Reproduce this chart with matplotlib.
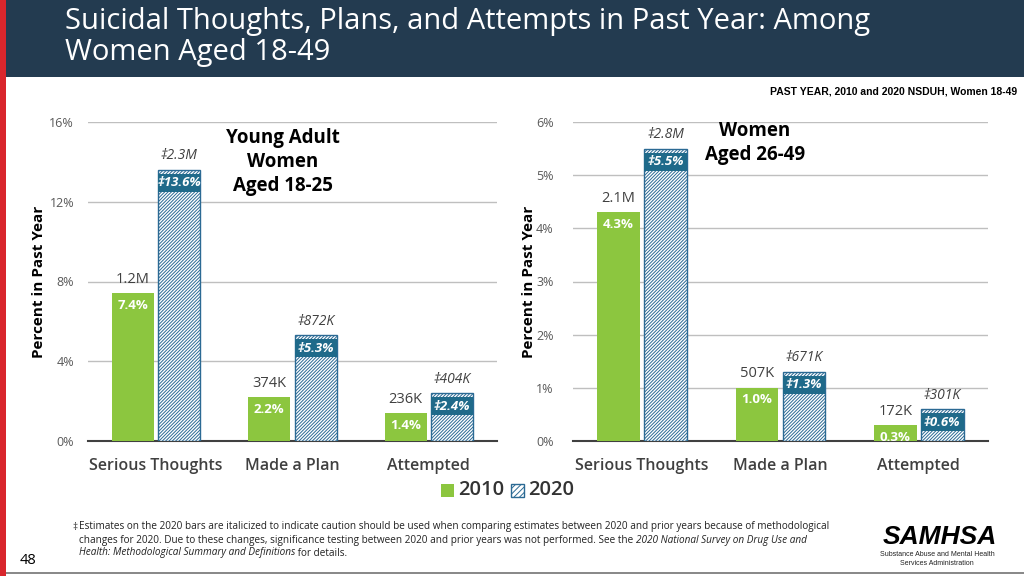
import numpy as np
import matplotlib
matplotlib.use('Agg')
import matplotlib.pyplot as plt
from matplotlib.patches import Rectangle

# Data
categories = ['Serious Thoughts', 'Made a Plan', 'Attempted']
young_2010 = [7.4, 2.2, 1.4]
young_2020 = [13.6, 5.3, 2.4]
young_2010_n = ['1.2M', '374K', '236K']
young_2020_n = ['2.3M', '872K', '404K']
older_2010 = [4.3, 1.0, 0.3]
older_2020 = [5.5, 1.3, 0.6]
older_2010_n = ['2.1M', '507K', '172K']
older_2020_n = ['2.8M', '671K', '301K']
young_ticks = [0, 4, 8, 12, 16]
older_ticks = [0, 1, 2, 3, 4, 5, 6]

GREEN = '#8cc63f'
BLUE = '#1f6a8a'
HATCH_BLUE = '#2b6a94'
NAVY = '#233b50'
DARK = '#404040'
DAG = '\u2021'
HATCH = '//////////'

plt.rcParams['font.family'] = ['Open Sans', 'DejaVu Sans']
plt.rcParams['hatch.linewidth'] = 0.7

W, H = 1024, 576
fig = plt.figure(figsize=(W / 100, H / 100), dpi=100)
fig.patch.set_facecolor('white')


def px(x, y):
    return x / W, 1 - y / H


# header band, red strip, bottom rule
fig.patches.append(Rectangle((0, 1 - 77 / H), 1, 77 / H, transform=fig.transFigure,
                             facecolor=NAVY, edgecolor='none', zorder=0))
fig.patches.append(Rectangle((0, 0), 6 / W, 1, transform=fig.transFigure,
                             facecolor='#d9262c', edgecolor='none', zorder=1))
fig.patches.append(Rectangle((6 / W, 2 / H), 1, 2 / H, transform=fig.transFigure,
                             facecolor='#8a8a8a', edgecolor='none', zorder=1))
fig.text(*px(65, 37), 'Suicidal Thoughts, Plans, and Attempts in Past Year: Among\nWomen Aged 18-49',
         color='white', fontsize=21, fontweight='medium', va='center', ha='left', linespacing=1.08)
fig.text(*px(1017, 92), 'PAST YEAR, 2010 and 2020 NSDUH, Women 18-49',
         family=['Liberation Sans', 'DejaVu Sans'], fontweight='bold',
         fontsize=7.5, ha='right', va='center', color='black')


def panel(rect, v10, v20, n10, n20, ticks, ymax, tpad, lpad):
    ax = fig.add_axes(rect)
    x = np.arange(len(categories))
    w = 0.31
    gap = 0.015
    ppu = 319 / ymax  # pixels per unit
    ax.bar(x - w / 2 - gap, v10, w, color=GREEN, zorder=3)
    ax.bar(x + w / 2 + gap, v20, w, facecolor='white', edgecolor=HATCH_BLUE, hatch=HATCH,
           linewidth=1.0, zorder=3)
    for i in range(len(x)):
        x0 = x[i] - w / 2 - gap
        x1 = x[i] + w / 2 + gap
        ax.text(x0, v10[i] - 12 / ppu, f'{v10[i]:.1f}%', ha='center', va='center',
                color='white', fontweight='bold', fontsize=9.5, zorder=5)
        ax.text(x0, v10[i] + 14 / ppu, n10[i], ha='center', va='center',
                color=DARK, fontsize=10.5, zorder=5)
        ax.add_patch(Rectangle((x1 - w / 2, v20[i] - 22 / ppu), w, 18 / ppu,
                               facecolor=BLUE, edgecolor='none', zorder=4))
        ax.text(x1, v20[i] - 13 / ppu, f'{DAG}{v20[i]:.1f}%', ha='center', va='center',
                color='white', fontweight='bold', fontstyle='italic', fontsize=9.5, zorder=5)
        ax.text(x1, v20[i] + 14 / ppu, f'{DAG}{n20[i]}', ha='center', va='center',
                color=DARK, fontstyle='italic', fontsize=10, zorder=5)
    ax.set_xlim(-0.5, 2.5)
    ax.set_ylim(0, ymax)
    ax.set_yticks(ticks)
    ax.set_yticklabels([f'{t}%' for t in ticks])
    ax.set_xticks(x)
    ax.set_xticklabels(categories, fontweight='semibold')
    ax.tick_params(axis='y', length=0, pad=tpad, labelsize=9, labelcolor='#595959')
    ax.tick_params(axis='x', length=0, pad=12, labelsize=11.5, labelcolor=DARK)
    ax.grid(axis='y', color='#bfbfbf', linewidth=1.0, zorder=0)
    for s in ['top', 'right', 'left']:
        ax.spines[s].set_visible(False)
    ax.spines['bottom'].set_color('#404040')
    ax.spines['bottom'].set_linewidth(1.5)
    ax.set_ylabel('Percent in Past Year', fontweight='bold', fontsize=11, color='black', labelpad=lpad)
    return ax


axl = panel([88 / W, 135 / H, 409 / W, 319 / H], young_2010, young_2020,
            young_2010_n, young_2020_n, young_ticks, 16, 10, 2.5)
axr = panel([573 / W, 135 / H, 415 / W, 319 / H], older_2010, older_2020,
            older_2010_n, older_2020_n, older_ticks, 6, 14, 0)

fig.text(*px(283, 162), 'Young Adult\nWomen\nAged 18-25', ha='center', va='center',
         fontweight='bold', fontsize=13.5, linespacing=1.3, color='black')
fig.text(*px(755, 143), 'Women\nAged 26-49', ha='center', va='center',
         fontweight='bold', fontsize=13.5, linespacing=1.3, color='black')

# legend
fig.patches.append(Rectangle(px(441, 497), 13 / W, 13 / H, transform=fig.transFigure,
                             facecolor=GREEN, edgecolor='none'))
fig.text(*px(458, 490), '2010', fontsize=14.5, fontweight='semibold', ha='left', va='center',
         color='#333333')
fig.patches.append(Rectangle(px(511, 497), 13 / W, 13 / H, transform=fig.transFigure,
                             facecolor='white', edgecolor=HATCH_BLUE, hatch='//////', linewidth=1.0))
fig.text(*px(528, 490), '2020', fontsize=14.5, fontweight='semibold', ha='left', va='center',
         color='#333333')

# footnote, built from pieces so some parts can be italic
fs = 7.2
fig.text(*px(72, 527), DAG, fontsize=fs, va='center', color='#333333')
fig.text(*px(79, 527), 'Estimates on the 2020 bars are italicized to indicate caution should be used when comparing '
         'estimates between 2020 and prior years because of methodological',
         fontsize=fs, va='center', color='#222222')
t = fig.text(*px(79, 540), 'changes for 2020. Due to these changes, significance testing between 2020 and prior years '
             'was not performed. See the ', fontsize=fs, va='center', color='#222222')
fig.draw_without_rendering()
plt.annotate('2020 National Survey on Drug Use and', xy=(1, 0.5), xycoords=t, va='center',
             fontsize=fs, fontstyle='italic', color='#222222', annotation_clip=False)
t3 = fig.text(*px(79, 553), 'Health: Methodological Summary and Definitions', fontsize=fs,
              fontstyle='italic', va='center', color='#222222')
plt.annotate(' for details.', xy=(1, 0.5), xycoords=t3, va='center', fontsize=fs,
             color='#222222', annotation_clip=False)

fig.text(*px(20, 560), '48', fontsize=10.5, va='center', ha='left', color='black')

# SAMHSA mark
fig.text(*px(940, 544), 'SAMHSA', fontsize=19, fontweight='bold', fontstyle='italic',
         family=['Liberation Sans', 'DejaVu Sans'], ha='center', va='baseline', color='black')
fig.text(*px(937, 559), 'Substance Abuse and Mental Health\nServices Administration', fontsize=5.0,
         family=['Liberation Sans', 'DejaVu Sans'], ha='center', va='center',
         color='#222222', linespacing=1.3)

fig.savefig('out.png', dpi=100)
